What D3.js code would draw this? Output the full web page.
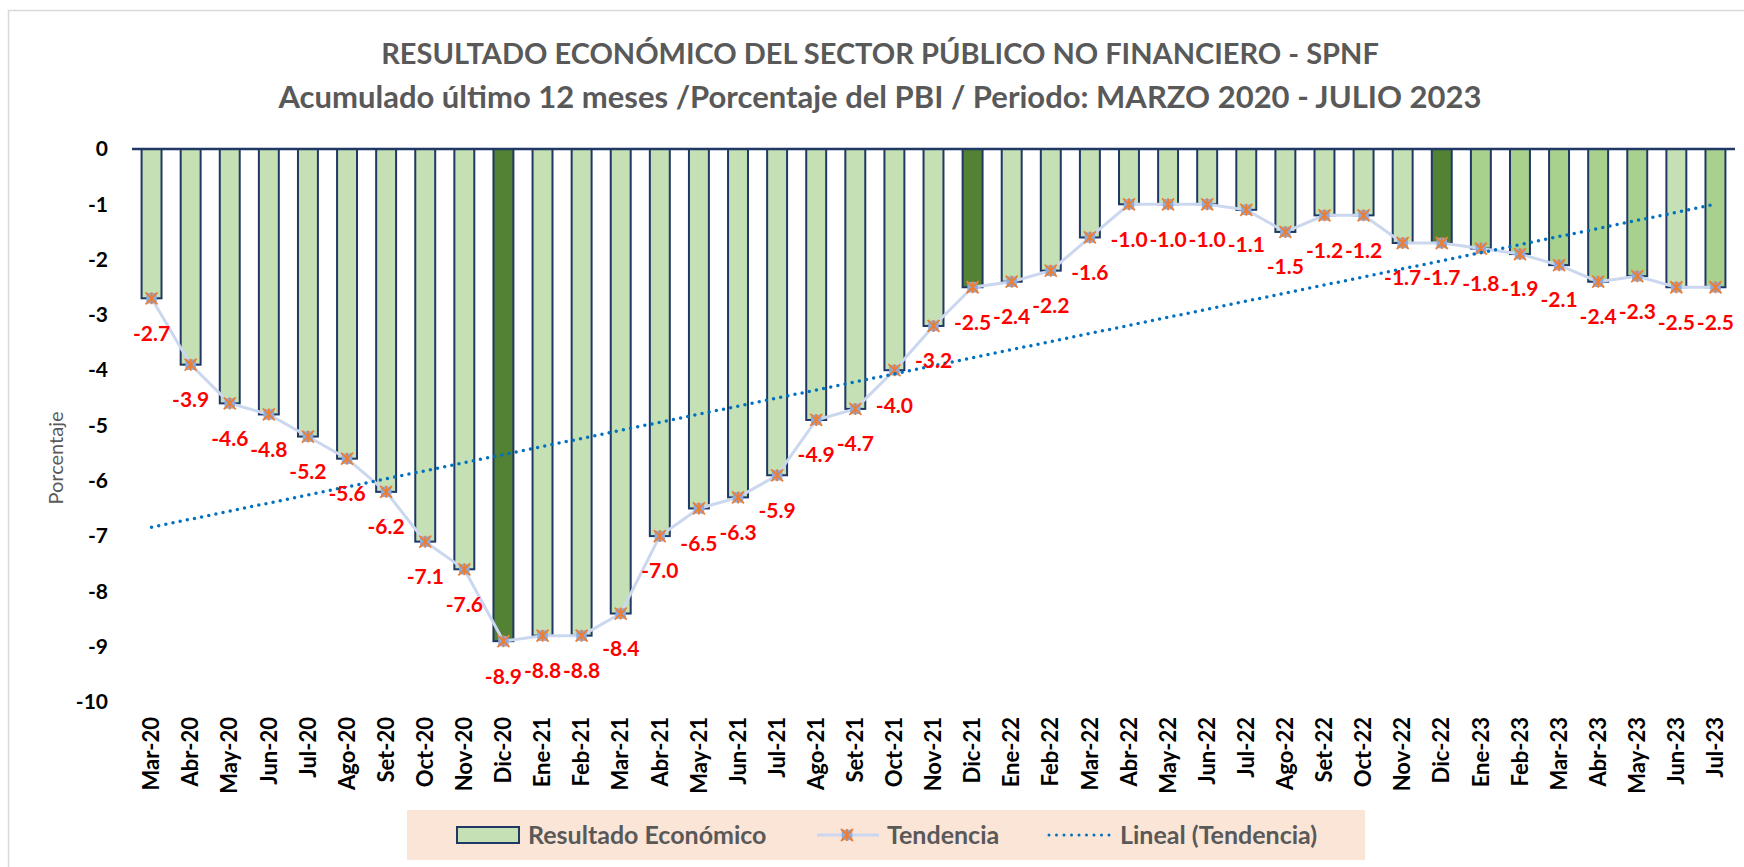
<!DOCTYPE html>
<html>
<head>
<meta charset="utf-8">
<script src="https://cdn.jsdelivr.net/npm/d3@7"></script>
<style>
  body { margin: 0; background: #fff; }
  svg { display: block; font-family: Lato, "Open Sans", sans-serif; }
</style>
</head>
<body>
<div id="chart-area"></div>
<script>
// Data
const categories = ["Mar-20","Abr-20","May-20","Jun-20","Jul-20","Ago-20","Set-20","Oct-20","Nov-20","Dic-20",
  "Ene-21","Feb-21","Mar-21","Abr-21","May-21","Jun-21","Jul-21","Ago-21","Set-21","Oct-21","Nov-21","Dic-21",
  "Ene-22","Feb-22","Mar-22","Abr-22","May-22","Jun-22","Jul-22","Ago-22","Set-22","Oct-22","Nov-22","Dic-22",
  "Ene-23","Feb-23","Mar-23","Abr-23","May-23","Jun-23","Jul-23"]
const values = [-2.7,-3.9,-4.6,-4.8,-5.2,-5.6,-6.2,-7.1,-7.6,-8.9,
  -8.8,-8.8,-8.4,-7.0,-6.5,-6.3,-5.9,-4.9,-4.7,-4.0,-3.2,-2.5,
  -2.4,-2.2,-1.6,-1.0,-1.0,-1.0,-1.1,-1.5,-1.2,-1.2,-1.7,-1.7,
  -1.8,-1.9,-2.1,-2.4,-2.3,-2.5,-2.5]
const yTicks = [0,-1,-2,-3,-4,-5,-6,-7,-8,-9,-10]
const darkBars = ["Dic-20","Dic-21","Dic-22"]
const midBars = ["Ene-23","Feb-23","Mar-23","Abr-23","May-23","Jul-23"]
const titleLines = ["RESULTADO ECONÓMICO DEL SECTOR PÚBLICO NO FINANCIERO - SPNF",
  "Acumulado último 12 meses /Porcentaje del PBI / Periodo: MARZO 2020 - JULIO 2023"]
const legendLabels = ["Resultado Económico","Tendencia","Lineal (Tendencia)"]

// Layout
const W = 1744, H = 867
const PLOT = { LEFT: 132, RIGHT: 1735, TOP: 149, BOTTOM: 702 }
const NAVY = "#1F3864"

const svg = d3.select("#chart-area").append("svg")
  .attr("width", W)
  .attr("height", H)

// chart border
svg.append("rect")
  .attr("x", 8.5).attr("y", 10.5)
  .attr("width", W).attr("height", H)
  .attr("fill", "none")
  .attr("stroke", "#D9D9D9")
  .attr("stroke-width", 1.5)

// Title
svg.selectAll("text.title")
  .data(titleLines)
  .enter().append("text")
  .attr("class", "title")
  .attr("x", 880)
  .attr("y", (d, i) => 64 + i * 44)
  .attr("text-anchor", "middle")
  .attr("font-size", (d, i) => i === 0 ? "29px" : "31px")
  .attr("font-weight", "bold")
  .attr("fill", "#595959")
  .text(d => d)

// Scales
const x = d3.scaleBand()
  .domain(categories)
  .range([PLOT.LEFT, PLOT.RIGHT])
  .paddingInner(0.49)
  .paddingOuter(0.245)

const y = d3.scaleLinear()
  .domain([0, -10])
  .range([PLOT.TOP, PLOT.BOTTOM])

const cx = d => x(d) + x.bandwidth() / 2

// Y axis
const yAxis = svg.append("g")
  .attr("transform", `translate(${PLOT.LEFT}, 0)`)
  .call(d3.axisLeft(y).tickValues(yTicks).tickSize(0).tickPadding(24).tickFormat(d => String(d)))
yAxis.select(".domain").remove()
yAxis.selectAll("text")
  .attr("font-family", "Lato, sans-serif")
  .attr("font-size", "21px")
  .attr("font-weight", "bold")
  .attr("fill", "#000")

// Y label
svg.append("text")
  .attr("transform", "translate(63, 458) rotate(-90)")
  .attr("text-anchor", "middle")
  .attr("font-size", "20px")
  .attr("fill", "#595959")
  .text("Porcentaje")

// X axis
const xAxis = svg.append("g")
  .attr("transform", `translate(0, ${PLOT.BOTTOM})`)
  .call(d3.axisBottom(x).tickSize(0))
xAxis.select(".domain").remove()
xAxis.selectAll("text")
  .attr("font-family", "Lato, sans-serif")
  .attr("font-size", "22px")
  .attr("font-weight", "bold")
  .attr("fill", "#000")
  .attr("transform", "rotate(-90)")
  .attr("text-anchor", "end")
  .attr("x", -15)
  .attr("y", 0)
  .attr("dy", "0.35em")

// Bars
const barColor = c => darkBars.includes(c) ? "#548235" : midBars.includes(c) ? "#A9D18E" : "#C5E0B4"

svg.append("g").selectAll("rect")
  .data(categories)
  .enter().append("rect")
  .attr("x", d => x(d))
  .attr("y", y(0))
  .attr("width", x.bandwidth())
  .attr("height", (d, i) => y(values[i]) - y(0))
  .attr("fill", d => barColor(d))
  .attr("stroke", NAVY)
  .attr("stroke-width", 2)

// zero line
svg.append("line")
  .attr("x1", PLOT.LEFT).attr("x2", PLOT.RIGHT)
  .attr("y1", y(0)).attr("y2", y(0))
  .attr("stroke", NAVY)
  .attr("stroke-width", 2.5)

// Tendencia line
const line = d3.line()
  .x((d, i) => cx(categories[i]))
  .y(d => y(d))

svg.append("path")
  .datum(values)
  .attr("d", line)
  .attr("fill", "none")
  .attr("stroke", "#CAD7EF")
  .attr("stroke-width", 3)

// markers: blue square + orange asterisk
const star = r => `M${-r},${-r}L${r},${r}M${-r},${r}L${r},${-r}M0,${-r}L0,${r}`
const markers = svg.append("g").selectAll("g")
  .data(values)
  .enter().append("g")
  .attr("transform", (d, i) => `translate(${cx(categories[i])}, ${y(d)})`)
markers.append("path")
  .attr("d", d3.symbol(d3.symbolSquare, 110))
  .attr("fill", "#8FAADC")
markers.append("path")
  .attr("d", star(6))
  .attr("stroke", "#ED7D31")
  .attr("stroke-width", 1.8)
  .attr("fill", "none")

// Linear trend (least squares on Tendencia)
const idx = d3.range(values.length)
const mx = d3.mean(idx), my = d3.mean(values)
const slope = d3.sum(idx, i => (i - mx) * (values[i] - my)) / d3.sum(idx, i => (i - mx) ** 2)
const intercept = my - slope * mx
const n = values.length

svg.append("line")
  .attr("x1", cx(categories[0])).attr("y1", y(intercept))
  .attr("x2", cx(categories[n - 1])).attr("y2", y(intercept + slope * (n - 1)))
  .attr("stroke", "#0070C0")
  .attr("stroke-width", 3.5)
  .attr("stroke-linecap", "round")
  .attr("stroke-dasharray", "0 7.3")

// Data labels
svg.append("g").selectAll("text")
  .data(values)
  .enter().append("text")
  .attr("x", (d, i) => cx(categories[i]))
  .attr("y", d => y(d) + 35)
  .attr("dy", "0.35em")
  .attr("text-anchor", "middle")
  .attr("font-size", "21px")
  .attr("font-weight", "bold")
  .attr("fill", "#FF0000")
  .text(d => d.toFixed(1))

// Legend
const legend = svg.append("g")
legend.append("rect")
  .attr("x", 407).attr("y", 810)
  .attr("width", 958).attr("height", 50)
  .attr("fill", "#FBE5D6")

legend.append("rect")
  .attr("x", 457).attr("y", 827)
  .attr("width", 62).attr("height", 16)
  .attr("fill", "#C5E0B4")
  .attr("stroke", NAVY)
  .attr("stroke-width", 2)

legend.append("line")
  .attr("x1", 817).attr("x2", 879)
  .attr("y1", 835).attr("y2", 835)
  .attr("stroke", "#CAD7EF").attr("stroke-width", 3)
const lm = legend.append("g").attr("transform", "translate(847, 835)")
lm.append("path").attr("d", d3.symbol(d3.symbolSquare, 110)).attr("fill", "#8FAADC")
lm.append("path").attr("d", star(6)).attr("stroke", "#ED7D31").attr("stroke-width", 1.8)

legend.append("line")
  .attr("x1", 1049).attr("x2", 1110)
  .attr("y1", 835).attr("y2", 835)
  .attr("stroke", "#0070C0")
  .attr("stroke-width", 3)
  .attr("stroke-linecap", "round")
  .attr("stroke-dasharray", "0 7.5")

legend.selectAll("text.leg")
  .data(legendLabels)
  .enter().append("text")
  .attr("class", "leg")
  .attr("x", (d, i) => [528, 887, 1120][i])
  .attr("y", 844)
  .attr("font-size", "25px")
  .attr("font-weight", "bold")
  .attr("fill", "#595959")
  .text(d => d)
</script>
</body>
</html>
